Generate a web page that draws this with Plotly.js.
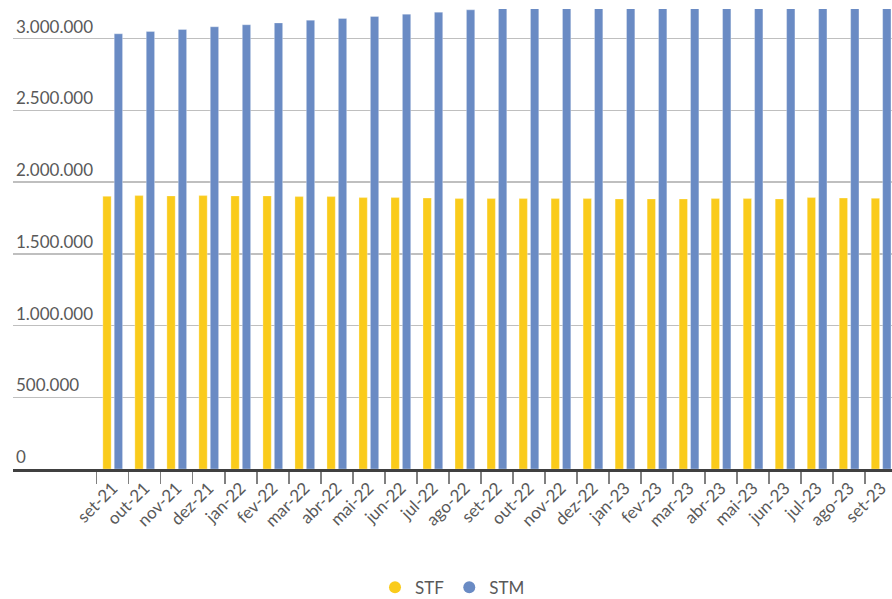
<!DOCTYPE html>
<html>
<head>
<meta charset="utf-8">
<script src="https://cdn.plot.ly/plotly-3.0.1.min.js"></script>
<style>html,body{margin:0;padding:0;background:#fff;}#chart{width:892px;height:599px;}</style>
</head>
<body>
<div id="chart"></div>
<script>
var months = ['set-21','out-21','nov-21','dez-21','jan-22','fev-22','mar-22','abr-22','mai-22','jun-22','jul-22','ago-22','set-22','out-22','nov-22','dez-22','jan-23','fev-23','mar-23','abr-23','mai-23','jun-23','jul-23','ago-23','set-23'];
var stf = [1901000,1906000,1904000,1906000,1904000,1904000,1899000,1899000,1892000,1892000,1889000,1885000,1885000,1885000,1885000,1885000,1883000,1883000,1883000,1885000,1885000,1883000,1892000,1889000,1887000];
var stm = [3034000,3050000,3064000,3083000,3097000,3110000,3129000,3141000,3155000,3171000,3185000,3201000,3215000,3228000,3240000,3252000,3263000,3275000,3286000,3298000,3310000,3321000,3333000,3345000,3356000];
var seriesNames = ['STF','STM'];
var colors = ['#FACB1B','#6A8BC4'];
var yTicks = [0,500000,1000000,1500000,2000000,2500000,3000000];

var traces = [
  {type:'bar', x:months, y:stf, name:seriesNames[0], showlegend:false, legendgroup:'a',
   marker:{color:colors[0], line:{color:'rgba(255,255,255,0.5)', width:0.6}}, hoverinfo:'x+y'},
  {type:'bar', x:months, y:stm, name:seriesNames[1], showlegend:false, legendgroup:'b',
   marker:{color:colors[1], line:{color:'rgba(255,255,255,0.5)', width:0.6}}, hoverinfo:'x+y'},
  {type:'scatter', mode:'markers', x:[null], y:[null], name:seriesNames[0], legendgroup:'a',
   marker:{color:colors[0], size:20, symbol:'circle'}},
  {type:'scatter', mode:'markers', x:[null], y:[null], name:seriesNames[1], legendgroup:'b',
   marker:{color:colors[1], size:20, symbol:'circle'}}
];

var layout = {
  width:892, height:599,
  margin:{l:13, r:0, t:8.5, b:130, pad:0, autoexpand:false},
  paper_bgcolor:'#ffffff', plot_bgcolor:'#ffffff',
  separators:',.',
  font:{family:'Lato, "Open Sans", sans-serif', color:'#595959'},
  barmode:'group', bargap:0.288, bargroupgap:0.27,
  showlegend:true,
  legend:{orientation:'h', x:0.5, xanchor:'center', y:-0.258, yanchor:'middle',
          font:{size:17, color:'#595959'}, itemsizing:'constant', traceorder:'normal'},
  xaxis:{type:'category', categoryorder:'array', categoryarray:months,
         range:[-3.114, 24.34], showgrid:false, zeroline:false, automargin:false,
         showline:true, linecolor:'#404040', linewidth:2.5,
         ticks:'outside', tickson:'boundaries', ticklen:12, tickwidth:1.5, tickcolor:'#808080',
         tickangle:-45, tickfont:{size:17, color:'#595959'}, fixedrange:true},
  yaxis:{range:[0,3207000], tickvals:yTicks, tickformat:',.0f', automargin:false,
         showgrid:true, gridcolor:'#BFBFBF', gridwidth:1.3,
         zeroline:false, showline:false, ticks:'',
         ticklabelposition:'inside top', tickfont:{size:17, color:'#595959'}, fixedrange:true}
};

Plotly.newPlot('chart', traces, layout, {displayModeBar:false, staticPlot:true});
</script>
</body>
</html>
